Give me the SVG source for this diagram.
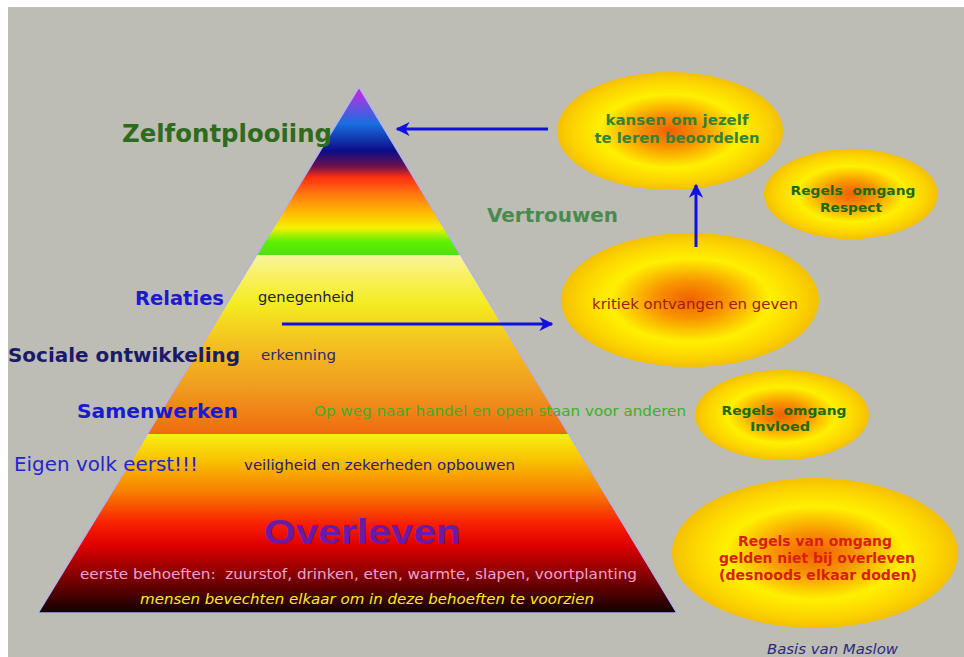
<svg xmlns="http://www.w3.org/2000/svg" width="964" height="657" viewBox="0 0 964 657">
<defs>
<linearGradient id="gTop" x1="0" y1="0" x2="0" y2="1">
<stop offset="0" stop-color="#d81ee0"/>
<stop offset="0.12" stop-color="#6a50e0"/>
<stop offset="0.22" stop-color="#1a6ee0"/>
<stop offset="0.38" stop-color="#0c0c88"/>
<stop offset="0.47" stop-color="#6a1050"/>
<stop offset="0.54" stop-color="#ff3010"/>
<stop offset="0.65" stop-color="#ff8010"/>
<stop offset="0.76" stop-color="#ffc000"/>
<stop offset="0.84" stop-color="#f4f000"/>
<stop offset="0.92" stop-color="#5ef000"/>
<stop offset="1" stop-color="#50e010"/>
</linearGradient>
<linearGradient id="gMid" x1="0" y1="0" x2="0" y2="1">
<stop offset="0" stop-color="#f8f49c"/>
<stop offset="0.12" stop-color="#f8f060"/>
<stop offset="0.27" stop-color="#f4ec20"/>
<stop offset="0.5" stop-color="#f4c020"/>
<stop offset="0.72" stop-color="#f0a020"/>
<stop offset="1" stop-color="#f06a10"/>
</linearGradient>
<linearGradient id="gLow" x1="0" y1="0" x2="0" y2="1">
<stop offset="0" stop-color="#f8f010"/>
<stop offset="0.15" stop-color="#f8c000"/>
<stop offset="0.32" stop-color="#f88000"/>
<stop offset="0.5" stop-color="#f82000"/>
<stop offset="0.62" stop-color="#e00000"/>
<stop offset="0.8" stop-color="#800000"/>
<stop offset="1" stop-color="#100000"/>
</linearGradient>
<radialGradient id="gEll" cx="0.5" cy="0.5" r="0.5">
<stop offset="0" stop-color="#f06000"/>
<stop offset="0.28" stop-color="#f89400"/>
<stop offset="0.62" stop-color="#fff000"/>
<stop offset="0.86" stop-color="#fcd400"/>
<stop offset="1" stop-color="#f4c000"/>
</radialGradient>
<marker id="ah" viewBox="0 0 10 10" refX="9" refY="5" markerWidth="4.7" markerHeight="4.7" orient="auto-start-reverse" markerUnits="strokeWidth">
<path d="M0,0 L10,5 L0,10 L3,5 Z" fill="#1010e0"/>
</marker>
</defs>
<style>
.lbl{font-family:"DejaVu Sans",Verdana,sans-serif;}
.b{font-weight:bold;}
.sm{font-size:14px;}
.ell{fill:url(#gEll);}
.con{stroke:#1010e0;stroke-width:3;fill:none;}
</style>
<rect x="0" y="0" width="964" height="657" fill="#ffffff"/>
<rect x="8" y="7" width="956" height="650" fill="#bdbdb5"/>

<g id="pyramid">
<polygon points="359,87 256.5,255 460.6,255" fill="url(#gTop)"/>
<polygon points="256.5,255 460.6,255 568.8,434 147.2,434" fill="url(#gMid)"/>
<polygon points="147.2,434 568.8,434 677,613 38,613" fill="url(#gLow)"/>
<polygon points="359,87 677,613 38,613" fill="none" stroke="#b4b4e8" stroke-width="1.5"/>
</g>

<g id="lbl-zelf"><text class="lbl b" x="122" y="142" font-size="25" fill="#2f6b1c" textLength="210" lengthAdjust="spacingAndGlyphs">Zelfontplooiing</text></g>
<g id="lbl-relaties"><text class="lbl b" x="135" y="305" font-size="19" fill="#1a1ad0" textLength="89" lengthAdjust="spacingAndGlyphs">Relaties</text>
<text class="lbl sm" x="258" y="302" fill="#1c1c3a" textLength="96" lengthAdjust="spacingAndGlyphs">genegenheid</text></g>
<g id="lbl-sociaal"><text class="lbl b" x="8" y="362" font-size="20" fill="#1a1a68" textLength="232" lengthAdjust="spacingAndGlyphs">Sociale ontwikkeling</text>
<text class="lbl sm" x="261" y="360" fill="#2a2a70" textLength="75" lengthAdjust="spacingAndGlyphs">erkenning</text></g>
<g id="lbl-samen"><text class="lbl b" x="77" y="418" font-size="20" fill="#1a1ad0" textLength="161" lengthAdjust="spacingAndGlyphs">Samenwerken</text>
<text class="lbl sm" x="314" y="416" fill="#3cb028" textLength="372" lengthAdjust="spacingAndGlyphs">Op weg naar handel en open staan voor anderen</text></g>
<g id="lbl-eigen"><text class="lbl" x="14" y="471" font-size="19" fill="#2424d0" textLength="184" lengthAdjust="spacingAndGlyphs">Eigen volk eerst!!!</text>
<text class="lbl sm" x="244" y="470" fill="#2a2070" textLength="271" lengthAdjust="spacingAndGlyphs">veiligheid en zekerheden opbouwen</text></g>
<g id="lbl-overleven"><text x="264" y="544" font-family="'Liberation Sans',Arial,sans-serif" font-weight="bold" font-size="35" fill="#6a1aa8" textLength="197" lengthAdjust="spacingAndGlyphs">Overleven</text>
<text class="lbl sm" x="80" y="579" fill="#f0a0d0" xml:space="preserve" textLength="557" lengthAdjust="spacingAndGlyphs">eerste behoeften:  zuurstof, drinken, eten, warmte, slapen, voortplanting</text>
<text class="lbl sm" x="140" y="604" fill="#f4f020" font-style="italic" textLength="454" lengthAdjust="spacingAndGlyphs">mensen bevechten elkaar om in deze behoeften te voorzien</text></g>

<g id="lbl-vertrouwen"><text class="lbl b" x="487" y="222" font-size="19" fill="#4a8a50" textLength="131" lengthAdjust="spacingAndGlyphs">Vertrouwen</text></g>

<g id="node-kansen">
<ellipse class="ell" cx="670" cy="131" rx="113" ry="59"/>
<text class="lbl b sm" x="677" y="125" text-anchor="middle" fill="#3a8030" textLength="143" lengthAdjust="spacingAndGlyphs">kansen om jezelf</text>
<text class="lbl b sm" x="677" y="143" text-anchor="middle" fill="#3a8030" textLength="165" lengthAdjust="spacingAndGlyphs">te leren beoordelen</text>
</g>
<g id="node-respect">
<ellipse class="ell" cx="851" cy="194" rx="87" ry="45"/>
<text class="lbl b" x="853" y="195" font-size="13" text-anchor="middle" fill="#1a6a10" xml:space="preserve" textLength="125" lengthAdjust="spacingAndGlyphs">Regels  omgang</text>
<text class="lbl b" x="851" y="212" font-size="13" text-anchor="middle" fill="#1a6a10" textLength="62" lengthAdjust="spacingAndGlyphs">Respect</text>
</g>
<g id="node-kritiek">
<ellipse class="ell" cx="690" cy="300" rx="129" ry="67"/>
<text class="lbl sm" x="695" y="309" text-anchor="middle" fill="#a02010" textLength="206" lengthAdjust="spacingAndGlyphs">kritiek ontvangen en geven</text>
</g>
<g id="node-invloed">
<ellipse class="ell" cx="782" cy="415" rx="87" ry="45"/>
<text class="lbl b" x="784" y="415" font-size="13" text-anchor="middle" fill="#1a6a10" xml:space="preserve" textLength="125" lengthAdjust="spacingAndGlyphs">Regels  omgang</text>
<text class="lbl b" x="780" y="431" font-size="13" text-anchor="middle" fill="#1a6a10" textLength="60" lengthAdjust="spacingAndGlyphs">Invloed</text>
</g>
<g id="node-overleven">
<ellipse class="ell" cx="815" cy="553" rx="143" ry="75"/>
<text class="lbl b sm" x="815" y="546" text-anchor="middle" fill="#d82010" textLength="154" lengthAdjust="spacingAndGlyphs">Regels van omgang</text>
<text class="lbl b sm" x="817" y="563" text-anchor="middle" fill="#d82010" textLength="196" lengthAdjust="spacingAndGlyphs">gelden niet bij overleven</text>
<text class="lbl b sm" x="818" y="580" text-anchor="middle" fill="#d82010" textLength="198" lengthAdjust="spacingAndGlyphs">(desnoods elkaar doden)</text>
</g>

<g id="caption"><text class="lbl sm" x="767" y="654" fill="#2a2a80" font-style="italic" textLength="131" lengthAdjust="spacingAndGlyphs">Basis van Maslow</text></g>

<g id="connectors">
<line class="con" x1="548" y1="129" x2="397" y2="129" marker-end="url(#ah)"/>
<line class="con" x1="282" y1="324" x2="552" y2="324" marker-end="url(#ah)"/>
<line class="con" x1="696" y1="247" x2="696" y2="185" marker-end="url(#ah)"/>
</g>
</svg>
